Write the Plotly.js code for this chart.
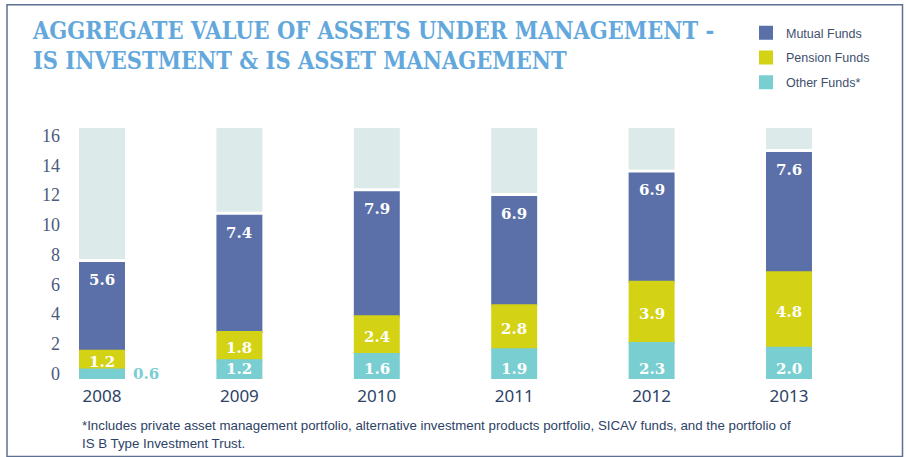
<!DOCTYPE html>
<html><head><meta charset="utf-8">
<script src="https://cdn.plot.ly/plotly-3.0.1.min.js"></script>
<style>html,body{margin:0;padding:0;background:#fff}#chart{width:906px;height:457px}</style>
</head><body><div id="chart"></div>
<script>
// ---- data ----
const years = ['2008', '2009', '2010', '2011', '2012', '2013'];
const otherFunds = [0.6, 1.2, 1.6, 1.9, 2.3, 2.0];
const pensionFunds = [1.2, 1.8, 2.4, 2.8, 3.9, 4.8];
const mutualFunds = [5.6, 7.4, 7.9, 6.9, 6.9, 7.6];
const yTicks = [0, 2, 4, 6, 8, 10, 12, 14, 16];
const scaleMax = 16;
const seriesNames = ['Mutual Funds', 'Pension Funds', 'Other Funds*'];
const titleLines = ['AGGREGATE VALUE OF ASSETS UNDER MANAGEMENT -', 'IS INVESTMENT & IS ASSET MANAGEMENT'];
const footnoteLines = ['*Includes private asset management portfolio, alternative investment products portfolio, SICAV funds, and the portfolio of', 'IS B Type Investment Trust.'];

// ---- style ----
const C = {mutual: '#5B6FA8', pension: '#D4D214', other: '#79CED1', bg: '#DDEAEA',
  title: '#63A8DC', ytick: '#4A5B7C', xtick: '#2D4266', note: '#2D4266', legend: '#3E4F6E', frame: '#5E7090'};
const W = 906, H = 457;
const M = {l: 65, r: 60, t: 128, b: 78.3, autoexpand: false};
const plotW = W - M.l - M.r, plotH = H - M.t - M.b;
const px2x = p => (p - M.l) / plotW;           // container px -> paper x
const py2y = p => (H - M.b - p) / plotH;       // container px -> paper y
const GAP = 0.255;
const BARW = 0.32;

const pensionBase = otherFunds.slice();
const mutualBase = otherFunds.map((v, i) => v + pensionFunds[i]);
const totals = mutualBase.map((v, i) => v + mutualFunds[i]);
const bgBase = totals.map(t => t + GAP);
const fmt = v => v.toFixed(1);

const barCommon = {type: 'bar', x: years, width: BARW, hoverinfo: 'skip'};
const traces = [
  {type: 'bar', x: years, base: bgBase, y: bgBase.map(b => scaleMax - b), width: 0.335,
   marker: {color: C.bg}, showlegend: false, hoverinfo: 'skip'},
  Object.assign({}, barCommon, {name: seriesNames[0], legendgroup: 'a', base: mutualBase, y: mutualFunds,
   marker: {color: C.mutual, line: {color: C.mutual, width: 2}}}),
  Object.assign({}, barCommon, {name: seriesNames[1], legendgroup: 'b', base: pensionBase, y: pensionFunds,
   marker: {color: C.pension, line: {color: C.pension, width: 2}}}),
  Object.assign({}, barCommon, {name: seriesNames[2], legendgroup: 'c', base: years.map(() => 0), y: otherFunds,
   marker: {color: C.other, line: {color: C.other, width: 2}}})
];

const labelFont = {family: 'DejaVu Serif, serif', size: 15, color: '#ffffff', weight: 'bold'};
const annotations = [];
years.forEach((yr, i) => {
  annotations.push({x: i, y: totals[i], xref: 'x', yref: 'y', text: fmt(mutualFunds[i]), showarrow: false,
    yanchor: 'middle', yshift: -17, font: labelFont});
  annotations.push({x: i, y: mutualBase[i] - pensionFunds[i] / 2, xref: 'x', yref: 'y', text: fmt(pensionFunds[i]),
    showarrow: false, yanchor: 'middle', yshift: -2, font: labelFont});
  if (otherFunds[i] >= 1) {
    annotations.push({x: i, y: 0.01, xref: 'x', yref: 'y', text: fmt(otherFunds[i]), showarrow: false,
      yanchor: 'middle', yshift: 10, font: labelFont});
  } else {
    annotations.push({x: i, y: 0.01, xref: 'x', yref: 'y', text: fmt(otherFunds[i]), showarrow: false,
      yanchor: 'middle', xshift: 44, yshift: 5, font: Object.assign({}, labelFont, {color: C.other})});
  }
});
const noteFont = {family: 'Liberation Sans, Arial, sans-serif', size: 13.3, color: C.note};
annotations.push({xref: 'paper', yref: 'paper', x: px2x(80), y: py2y(425), xanchor: 'left', yanchor: 'middle',
  text: footnoteLines[0], showarrow: false, font: noteFont});
annotations.push({xref: 'paper', yref: 'paper', x: px2x(80), y: py2y(443), xanchor: 'left', yanchor: 'middle',
  text: footnoteLines[1], showarrow: false, font: noteFont});

const layout = {
  width: W, height: H, margin: M, paper_bgcolor: '#fff', plot_bgcolor: '#fff',
  barmode: 'overlay', showlegend: true,
  title: {text: titleLines.join('<br>'), xref: 'container', yref: 'container', x: 33 / W, xanchor: 'left',
    y: 1 - 39 / H, yanchor: 'top',
    font: {family: 'DejaVu Serif Condensed, DejaVu Serif, serif', size: 23.4, weight: 'bold', color: C.title}},
  xaxis: {type: 'category', range: [-(102 - M.l) / 137.4, (W - M.r - 102) / 137.4], showgrid: false, zeroline: false,
    showline: false, ticks: 'outside', ticklen: 2, tickcolor: 'rgba(0,0,0,0)',
    tickfont: {family: 'Noto Sans, sans-serif', size: 17, color: C.xtick}},
  yaxis: {range: [0, scaleMax], showticklabels: false, ticks: '', showline: false, showgrid: false, zeroline: false},
  yaxis2: {overlaying: 'y', side: 'left', anchor: 'x', range: [-0.384, 16.52], tickvals: yTicks,
    showgrid: false, zeroline: false, showline: false, ticks: '', ticklabelstandoff: 4,
    tickfont: {family: 'Liberation Serif, serif', size: 18, color: C.ytick}},
  legend: {xref: 'container', yref: 'container', x: (786 - 40) / W, y: 1 - 18 / H, xanchor: 'left', yanchor: 'top',
    traceorder: 'grouped', tracegroupgap: 5.5, bgcolor: 'rgba(0,0,0,0)',
    font: {family: 'Liberation Sans, Arial, sans-serif', size: 12.5, color: C.legend}},
  annotations: annotations,
  shapes: [{type: 'rect', xref: 'paper', yref: 'paper', x0: px2x(7), x1: px2x(902.5), y0: py2y(456), y1: py2y(5),
    line: {color: C.frame, width: 1.5}, fillcolor: 'rgba(0,0,0,0)', layer: 'above'}]
};
// dummy invisible trace so the secondary axis is drawn
traces.push({type: 'scatter', x: [years[0]], y: [null], yaxis: 'y2', showlegend: false, hoverinfo: 'skip'});

Plotly.newPlot('chart', traces, layout, {displayModeBar: false, staticPlot: true});
</script></body></html>
